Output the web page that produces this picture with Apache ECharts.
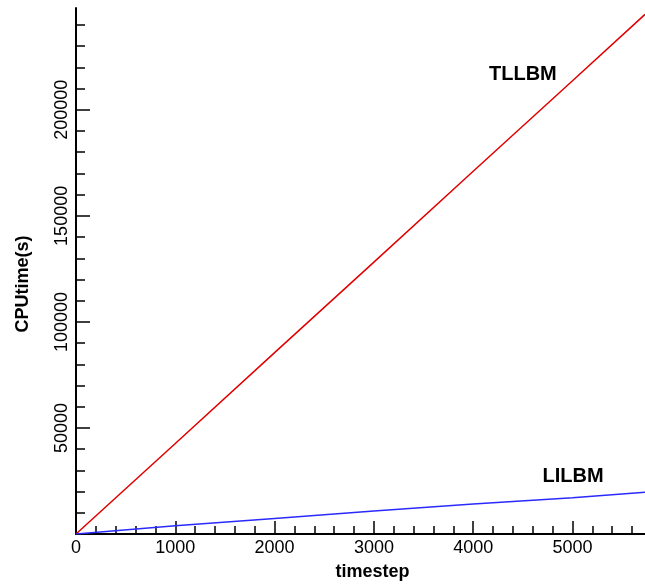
<!DOCTYPE html>
<html>
<head>
<meta charset="utf-8">
<script src="https://cdn.jsdelivr.net/npm/echarts@6/dist/echarts.min.js"></script>
<style>html,body{margin:0;padding:0;background:#fff}#c{width:645px;height:587px}</style>
</head>
<body>
<div id="c"></div>
<script>
// ---- data ----
const timesteps = [0, 1000, 2000, 3000, 4000, 5000, 5730];
const tllbm     = [0, 42700, 85500, 128200, 171000, 213700, 245000];
const lilbm     = [0, 3900, 7300, 10800, 14100, 17100, 19700];

const xMajorTicks = [0, 1000, 2000, 3000, 4000, 5000];
const xMinorTicks = [200,400,600,800,1200,1400,1600,1800,2200,2400,2600,2800,3200,3400,3600,3800,4200,4400,4600,4800,5200,5400,5600];
const yMajorTicks = [0, 50000, 100000, 150000, 200000];
const yMajorLabels = [50000, 100000, 150000, 200000];
const yMinorTicks = [10000,20000,30000,40000,60000,70000,80000,90000,110000,120000,130000,140000,160000,170000,180000,190000,210000,220000,230000,240000];

const seriesNames = ['TLLBM', 'LILBM'];
const annotTLLBM = [4500, 216500];
const annotLILBM = [5005, 27200];

const X_MAX = 5730, Y_MAX = 248000;
const FONT = 'Liberation Sans, Arial, Helvetica, sans-serif';

const chart = echarts.init(document.getElementById('c'), null, {renderer: 'canvas'});
const pair = (xs, ys) => xs.map((x, i) => [x, ys[i]]);
const plain = v => String(v);

chart.setOption({
  animation: false,
  backgroundColor: '#fff',
  grid: {left: 76, right: 0, top: 8, bottom: 53, containLabel: false},
  xAxis: [{
    type: 'value', min: 0, max: X_MAX,
    name: 'timestep', nameLocation: 'middle', nameGap: 29,
    nameTextStyle: {fontFamily: FONT, fontSize: 18, fontWeight: 'bold', color: '#000', padding: [0, 0, 0, 24]},
    axisLine: {show: true, onZero: false, lineStyle: {color: '#000', width: 2}},
    axisTick: {show: true, inside: true, length: 13, customValues: xMajorTicks, lineStyle: {color: '#000', width: 1.5}},
    axisLabel: {show: true, customValues: xMajorTicks, formatter: plain, fontFamily: FONT, fontSize: 18, color: '#000', margin: 5},
    splitLine: {show: false}
  }, {
    type: 'value', min: 0, max: X_MAX, position: 'bottom',
    axisLine: {show: false},
    axisTick: {show: true, inside: true, length: 8, customValues: xMinorTicks, lineStyle: {color: '#000', width: 1.5}},
    axisLabel: {show: false},
    splitLine: {show: false}
  }],
  yAxis: [{
    type: 'value', min: 0, max: Y_MAX,
    name: 'CPUtime(s)', nameLocation: 'middle', nameGap: 44,
    nameTextStyle: {fontFamily: FONT, fontSize: 18, fontWeight: 'bold', color: '#000', padding: [0, 26, 0, 0]},
    axisLine: {show: true, onZero: false, lineStyle: {color: '#000', width: 2}},
    axisTick: {show: true, inside: true, length: 14, customValues: yMajorTicks, lineStyle: {color: '#000', width: 1.5}},
    axisLabel: {show: true, rotate: 90, customValues: yMajorLabels, formatter: plain, fontFamily: FONT, fontSize: 18, color: '#000', margin: 5},
    splitLine: {show: false}
  }, {
    type: 'value', min: 0, max: Y_MAX, position: 'left',
    axisLine: {show: false},
    axisTick: {show: true, inside: true, length: 9, customValues: yMinorTicks, lineStyle: {color: '#000', width: 1.5}},
    axisLabel: {show: false},
    splitLine: {show: false}
  }],
  series: [{
    name: seriesNames[0], type: 'line', showSymbol: false, symbol: 'none',
    data: pair(timesteps, tllbm),
    lineStyle: {color: '#e00000', width: 1.5},
    markPoint: {symbol: 'circle', symbolSize: 0, silent: true,
      label: {show: true, position: 'inside', formatter: seriesNames[0], fontFamily: FONT, fontSize: 20, fontWeight: 'bold', color: '#000'},
      data: [{coord: annotTLLBM}]}
  }, {
    name: seriesNames[1], type: 'line', showSymbol: false, symbol: 'none',
    data: pair(timesteps, lilbm),
    lineStyle: {color: '#2a2aff', width: 1.5},
    markPoint: {symbol: 'circle', symbolSize: 0, silent: true,
      label: {show: true, position: 'inside', formatter: seriesNames[1], fontFamily: FONT, fontSize: 20, fontWeight: 'bold', color: '#000'},
      data: [{coord: annotLILBM}]}
  }]
});
</script>
</body>
</html>
